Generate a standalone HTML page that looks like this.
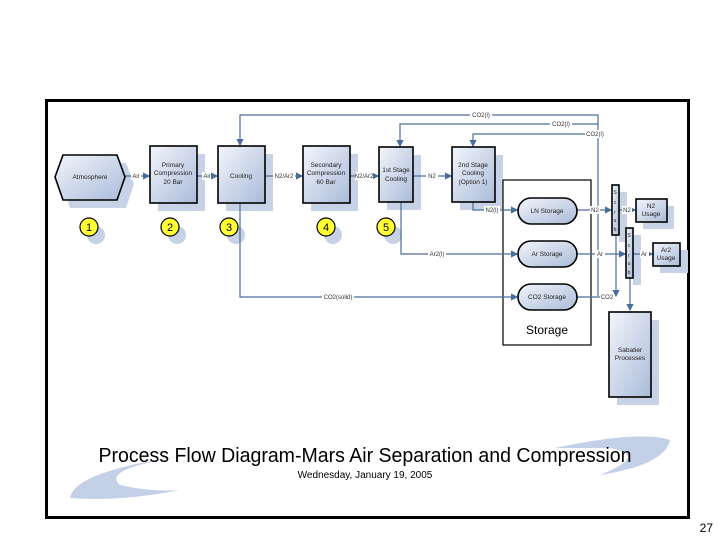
<!DOCTYPE html>
<html><head><style>
body{margin:0;background:#fff;}
svg{display:block;font-family:"Liberation Sans",sans-serif;}
</style></head><body>
<svg width="720" height="540" viewBox="0 0 720 540">
<defs>
<linearGradient id="g" x1="0" y1="0" x2="1" y2="1"><stop offset="0" stop-color="#f2f5fb"/><stop offset="1" stop-color="#aabbd9"/></linearGradient>
<marker id="a" markerWidth="6" markerHeight="6" refX="5" refY="3" orient="auto"><path d="M0,0 L6,3 L0,6 z" fill="#4a6e9c"/></marker>
</defs>
<rect x="46.5" y="100.5" width="642" height="417" fill="#fff" stroke="#000" stroke-width="3"/>
<!-- swooshes -->
<path d="M70,498 Q75,470 190,455 Q100,468 120,485 Q150,492 180,490 Q120,502 70,498z" fill="#c3d0e8"/>
<path d="M555,448 Q640,430 670,440 Q665,465 600,475 Q650,455 610,448 z" fill="#c3d0e8"/>
<g fill="#c8d2e6">
<rect x="158" y="154" width="47" height="57"/><rect x="226" y="154" width="47" height="57"/><rect x="311" y="154" width="47" height="57"/><rect x="387" y="155" width="34" height="55"/><rect x="460" y="155" width="43" height="55"/>
<rect x="526" y="206" width="59" height="26" rx="13"/><rect x="526" y="249" width="59" height="26" rx="13"/><rect x="526" y="292" width="59" height="26" rx="13"/>
<rect x="619" y="192" width="8" height="50"/><rect x="633" y="235" width="8" height="50"/><rect x="643" y="206" width="31" height="23"/><rect x="660" y="250" width="28" height="23"/><rect x="617" y="320" width="42" height="85"/>
<polygon points="70,163 126,163 134,184 126,208 70,208 62,184"/>
<circle cx="96" cy="235" r="9"/><circle cx="177" cy="235" r="9"/><circle cx="236" cy="235" r="9"/><circle cx="333" cy="235" r="9"/><circle cx="393" cy="235" r="9"/>
</g>
<!-- storage container -->
<rect x="503" y="180" width="88" height="165" fill="#fff" stroke="#000" stroke-width="1.2"/>
<text x="547" y="334" font-size="12" text-anchor="middle">Storage</text>
<!-- connectors -->
<g stroke="#4a6e9c" stroke-width="1.2" fill="none">
<line x1="124" y1="176" x2="149" y2="176" marker-end="url(#a)"/>
<line x1="197" y1="176" x2="217" y2="176" marker-end="url(#a)"/>
<line x1="265" y1="176" x2="302" y2="176" marker-end="url(#a)"/>
<line x1="350" y1="176" x2="378" y2="176" marker-end="url(#a)"/>
<line x1="413" y1="176" x2="451" y2="176" marker-end="url(#a)"/>
<polyline points="598,296 598,115 240,115 240,145" marker-end="url(#a)"/>
<polyline points="598,124 400,124 400,146" marker-end="url(#a)"/>
<polyline points="598,134 473,134 473,146" marker-end="url(#a)"/>
<polyline points="473,202 473,210 517,210" marker-end="url(#a)"/>
<polyline points="401,202 401,254 517,254" marker-end="url(#a)"/>
<polyline points="240,203 240,297 517,297" marker-end="url(#a)"/>
<line x1="577" y1="210" x2="611" y2="210" marker-end="url(#a)"/>
<line x1="619" y1="210" x2="635" y2="210" marker-end="url(#a)"/>
<line x1="577" y1="254" x2="625" y2="254" marker-end="url(#a)"/>
<line x1="633" y1="254" x2="652" y2="254" marker-end="url(#a)"/>
<line x1="577" y1="297" x2="611" y2="297"/>
<polyline points="616,235 616,296" marker-end="url(#a)"/>
<polyline points="630,278 630,310" marker-end="url(#a)"/>
</g>
<g font-size="6" fill="#333" text-anchor="middle">
<rect x="131" y="172" width="10" height="8" fill="#fff"/><text x="136" y="178">Air</text>
<rect x="202" y="172" width="9" height="8" fill="#fff"/><text x="207" y="178">Air</text>
<rect x="273" y="172" width="22" height="8" fill="#fff"/><text x="284" y="178">N2/Ar2</text>
<rect x="355" y="172" width="18" height="8" fill="#fff"/><text x="364" y="178">N2/Ar2</text>
<rect x="426" y="172" width="12" height="8" fill="#fff"/><text x="432" y="178">N2</text>
<rect x="470" y="111" width="22" height="8" fill="#fff"/><text x="481" y="117">CO2(l)</text>
<rect x="550" y="120" width="22" height="8" fill="#fff"/><text x="561" y="126">CO2(l)</text>
<rect x="585" y="130" width="20" height="8" fill="#fff"/><text x="595" y="136">CO2(l)</text>
<rect x="484" y="206" width="16" height="8" fill="#fff"/><text x="492" y="212">N2(l)</text>
<rect x="428" y="250" width="18" height="8" fill="#fff"/><text x="437" y="256">Ar2(l)</text>
<rect x="322" y="293" width="32" height="8" fill="#fff"/><text x="338" y="299">CO2(solid)</text>
<rect x="590" y="206" width="10" height="8" fill="#fff"/><text x="595" y="212">N2</text>
<rect x="622" y="206" width="10" height="8" fill="#fff"/><text x="627" y="212">N2</text>
<rect x="595" y="250" width="10" height="8" fill="#fff"/><text x="600" y="256">Ar</text>
<rect x="640" y="250" width="9" height="8" fill="#fff"/><text x="644" y="256">Ar</text>
<rect x="600" y="293" width="14" height="8" fill="#fff"/><text x="607" y="299">CO2</text>
</g>
<!-- nodes -->
<g stroke="#000" stroke-width="1.6" fill="url(#g)">
<polygon points="63,155 117,155 125,177 117,200 63,200 55,177"/>
<rect x="150" y="146" width="47" height="57"/>
<rect x="218" y="146" width="47" height="57"/>
<rect x="303" y="146" width="47" height="57"/>
<rect x="379" y="147" width="34" height="55"/>
<rect x="452" y="147" width="43" height="55"/>
<rect x="518" y="198" width="59" height="26" rx="13"/>
<rect x="518" y="241" width="59" height="26" rx="13"/>
<rect x="518" y="284" width="59" height="26" rx="13"/>
<rect x="612" y="185" width="7" height="50"/>
<rect x="626" y="228" width="7" height="50"/>
<rect x="636" y="199" width="31" height="23"/>
<rect x="653" y="243" width="27" height="23"/>
<rect x="609" y="312" width="42" height="85"/>
</g>
<g font-size="6.5" fill="#222" text-anchor="middle">
<text x="90" y="179">Atmosphere</text>
<text x="173" y="167">Primary</text><text x="173" y="175">Compression</text><text x="173" y="184">20 Bar</text>
<text x="241" y="178">Cooling</text>
<text x="326" y="167">Secondary</text><text x="326" y="175">Compression</text><text x="326" y="184">60 Bar</text>
<text x="396" y="172">1st Stage</text><text x="396" y="181">Cooling</text>
<text x="473" y="167">2nd Stage</text><text x="473" y="175">Cooling</text><text x="473" y="184">(Option 1)</text>
<text x="547" y="213">LN Storage</text><text x="547" y="256">Ar Storage</text><text x="547" y="299">CO2 Storage</text>
<text x="651" y="208">N2</text><text x="651" y="216">Usage</text>
<text x="666" y="252">Ar2</text><text x="666" y="260">Usage</text>
<text x="630" y="352">Sabatier</text><text x="630" y="360">Processes</text>
<text x="615" y="194" font-size="5">S</text><text x="615" y="204" font-size="5">c</text><text x="615" y="214" font-size="5">r</text><text x="615" y="222" font-size="5">u</text><text x="615" y="231" font-size="5">b</text>
<text x="629" y="237" font-size="5">S</text><text x="629" y="247" font-size="5">c</text><text x="629" y="257" font-size="5">r</text><text x="629" y="265" font-size="5">u</text><text x="629" y="274" font-size="5">b</text>
</g>
<g stroke="#000" stroke-width="1.2" fill="#ffff33">
<circle cx="89" cy="227" r="9"/><circle cx="170" cy="227" r="9"/><circle cx="229" cy="227" r="9"/><circle cx="326" cy="227" r="9"/><circle cx="386" cy="227" r="9"/>
</g>
<g font-size="11" text-anchor="middle" fill="#000">
<text x="89" y="231">1</text><text x="170" y="231">2</text><text x="229" y="231">3</text><text x="326" y="231">4</text><text x="386" y="231">5</text>
</g>
<text x="365" y="462" font-size="20" text-anchor="middle" fill="#000" textLength="533" lengthAdjust="spacingAndGlyphs">Process Flow Diagram-Mars Air Separation and Compression</text>
<text x="365" y="478" font-size="10" text-anchor="middle" fill="#000">Wednesday, January 19, 2005</text>
<text x="713" y="532" font-size="12" text-anchor="end" fill="#000">27</text>
</svg>
</body></html>
